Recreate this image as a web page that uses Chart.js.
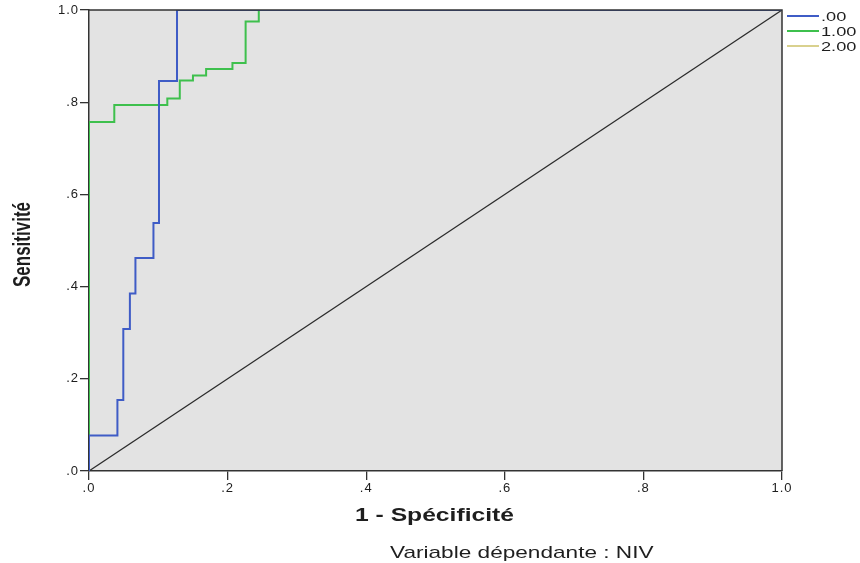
<!DOCTYPE html>
<html>
<head>
<meta charset="utf-8">
<script src="https://cdn.jsdelivr.net/npm/chart.js@4.4.1/dist/chart.umd.min.js"></script>
<style>
  html, body { margin: 0; padding: 0; background: #fff; }
  #wrap { width: 860px; height: 563px; }
</style>
</head>
<body>
<div id="wrap"><canvas id="roc"></canvas></div>
<script>
// ROC corner points : 1 - spécificité (x) / sensitivité (y)
const seriesLabels = ['.00', '1.00', '2.00'];
const seriesColors = ['#3f5cc6', '#3ec04d', '#d9d18e'];

const fpr00 = [0, 0, 0.041, 0.041, 0.0495, 0.0495, 0.059, 0.059, 0.067, 0.067, 0.093, 0.093, 0.101, 0.101, 0.127, 0.127, 1];
const tpr00 = [0, 0.077, 0.077, 0.154, 0.154, 0.308, 0.308, 0.385, 0.385, 0.462, 0.462, 0.538, 0.538, 0.846, 0.846, 1, 1];

const fpr10 = [0, 0, 0.0365, 0.0365, 0.113, 0.113, 0.131, 0.131, 0.150, 0.150, 0.169, 0.169, 0.207, 0.207, 0.226, 0.226, 0.245, 0.245, 1];
const tpr10 = [0, 0.757, 0.757, 0.794, 0.794, 0.808, 0.808, 0.847, 0.847, 0.858, 0.858, 0.872, 0.872, 0.885, 0.885, 0.975, 0.975, 1, 1];

const fpr20 = [];
const tpr20 = [];

const refX = [0, 1];
const refY = [0, 1];

const tickValues = [0, 0.2, 0.4, 0.6, 0.8, 1];
const tickLabels = ['.0', '.2', '.4', '.6', '.8', '1.0'];

const xTitle = '1 - Spécificité';
const yTitle = 'Sensitivité';
const footNote = 'Variable dépendante : NIV';

const FONT = "'Liberation Sans', Arial, sans-serif";
const INK = '#1e1e1e';

function pairs(xs, ys) {
  return xs.map((x, i) => ({ x: x, y: ys[i] }));
}

function curve(i, xs, ys) {
  return {
    label: seriesLabels[i],
    data: pairs(xs, ys),
    borderColor: seriesColors[i],
    borderWidth: 2,
    showLine: true,
    pointRadius: 0,
    fill: false
  };
}

function fixedTicks(scale) {
  scale.ticks = tickValues.map(v => ({ value: v }));
}

// stretched text, the reference is wider than tall
function wideText(ctx, txt, x, y, sx, font) {
  ctx.save();
  ctx.font = font;
  ctx.translate(x, y);
  ctx.scale(sx, 1);
  ctx.fillText(txt, 0, 0);
  ctx.restore();
}

const sheet = {
  id: 'sheet',
  beforeDraw(chart) {
    const { ctx, chartArea: a } = chart;
    ctx.letterSpacing = '1px';
    ctx.save();
    ctx.fillStyle = '#e3e3e3';
    ctx.fillRect(a.left, a.top, a.right - a.left, a.bottom - a.top);
    ctx.restore();
  },
  afterDatasetsDraw(chart) {
    const { ctx, chartArea: a } = chart;
    ctx.save();
    ctx.strokeStyle = '#333';
    ctx.lineWidth = 1.5;
    ctx.beginPath();
    ctx.moveTo(a.left, a.top);
    ctx.lineTo(a.right, a.top);
    ctx.lineTo(a.right, a.bottom);
    ctx.stroke();
    ctx.restore();
  },
  afterDraw(chart) {
    const { ctx, chartArea: a } = chart;
    ctx.save();
    ctx.letterSpacing = '0px';
    ctx.fillStyle = INK;
    ctx.textAlign = 'left';
    ctx.textBaseline = 'alphabetic';

    wideText(ctx, xTitle, 355, 521, 1.37, 'bold 18px ' + FONT);
    wideText(ctx, footNote, 390, 558, 1.33, '17px ' + FONT);

    // y title, rotated
    ctx.save();
    ctx.font = 'bold 17px ' + FONT;
    ctx.translate(30, (a.top + a.bottom) / 2 + 4);
    ctx.scale(1.37, 1);
    ctx.rotate(-Math.PI / 2);
    ctx.textAlign = 'center';
    ctx.fillText(yTitle, 0, 0);
    ctx.restore();

    // legend
    const rows = [16, 31, 46];
    seriesLabels.forEach((lab, i) => {
      ctx.strokeStyle = seriesColors[i];
      ctx.lineWidth = 2;
      ctx.beginPath();
      ctx.moveTo(787, rows[i]);
      ctx.lineTo(819, rows[i]);
      ctx.stroke();
      ctx.textBaseline = 'middle';
      wideText(ctx, lab, 821, rows[i] + 1, 1.4, '13px ' + FONT);
    });
    ctx.restore();
  }
};

const axisCommon = {
  type: 'linear',
  min: 0,
  max: 1,
  afterBuildTicks: fixedTicks,
  border: { display: true, color: '#333', width: 1.5 },
  title: { display: false }
};

new Chart(document.getElementById('roc'), {
  type: 'scatter',
  data: {
    datasets: [
      curve(0, fpr00, tpr00),
      curve(1, fpr10, tpr10),
      curve(2, fpr20, tpr20),
      {
        label: 'ref',
        data: pairs(refX, refY),
        borderColor: '#2b2b2b',
        borderWidth: 1.2,
        showLine: true,
        pointRadius: 0
      }
    ]
  },
  options: {
    responsive: true,
    maintainAspectRatio: false,
    animation: false,
    layout: { padding: { top: 10, right: 78, bottom: 0, left: 0 } },
    plugins: {
      legend: { display: false },
      tooltip: { enabled: false }
    },
    scales: {
      x: Object.assign({}, axisCommon, {
        position: 'bottom',
        afterFit: s => { s.height = 92; },
        grid: { drawOnChartArea: false, drawTicks: true, tickLength: 9, color: '#333', lineWidth: 1.3 },
        ticks: {
          callback: (v, i) => tickLabels[i],
          font: { family: FONT, size: 13 },
          color: INK,
          padding: 1,
          maxRotation: 0,
          autoSkip: false
        }
      }),
      y: Object.assign({}, axisCommon, {
        position: 'left',
        afterFit: s => { s.width = 89; },
        grid: { drawOnChartArea: false, drawTicks: true, tickLength: 9, color: '#333', lineWidth: 1.3 },
        ticks: {
          callback: (v, i) => tickLabels[i],
          font: { family: FONT, size: 13 },
          color: INK,
          padding: 1,
          autoSkip: false
        }
      })
    }
  },
  plugins: [sheet]
});
</script>
</body>
</html>
